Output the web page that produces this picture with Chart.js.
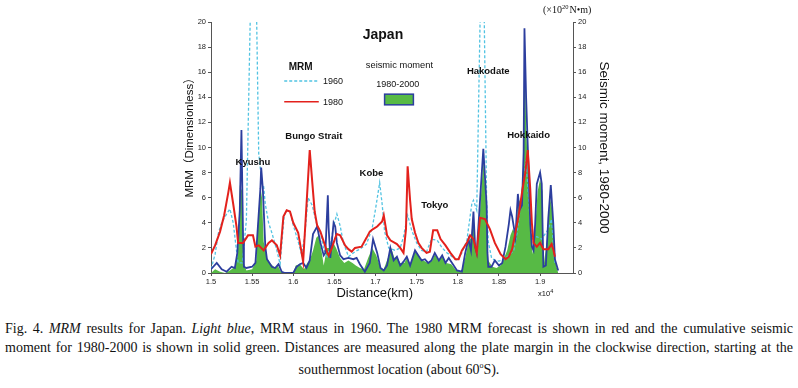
<!DOCTYPE html>
<html>
<head>
<meta charset="utf-8">
<script src="https://cdn.jsdelivr.net/npm/chart.js@4.4.1/dist/chart.umd.min.js"></script>
<style>
  body { margin: 0; background: #fff; }
  #wrap { position: relative; width: 798px; height: 310px; }
  #caption { width: 788px; margin: 10px 0 0 5px; font-family: "Liberation Serif", "Times New Roman", serif; font-size: 14px; line-height: 18.5px; color: #111; }
  #caption .j { text-align: justify; text-align-last: justify; white-space: nowrap; }
  #caption .c { text-align: center; }
</style>
</head>
<body>
<div id="wrap"><canvas id="chart"></canvas></div>
<div id="caption">
  <div class="j">Fig. 4. <i>MRM</i> results for Japan. <i>Light blue</i>, MRM staus in 1960. The 1980 MRM forecast is shown in red and the cumulative seismic</div>
  <div class="j">moment for 1980-2000 is shown in solid green. Distances are measured along the plate margin in the clockwise direction, starting at the</div>
  <div class="c">southernmost location (about 60<sup style="font-size:8px">o</sup>S).</div>
</div>
<script>
// distance along margin (x10^4 km)
const xTicks = [1.5, 1.55, 1.6, 1.65, 1.7, 1.75, 1.8, 1.85, 1.9];
const yTicks = [0, 2, 4, 6, 8, 10, 12, 14, 16, 18, 20];

// MRM 1980 forecast (red)
const red1980X = [1.500, 1.505, 1.511, 1.516, 1.521, 1.523, 1.527, 1.531, 1.533, 1.539, 1.545, 1.551, 1.554, 1.558, 1.564, 1.570, 1.574, 1.580, 1.584, 1.588, 1.592, 1.596, 1.600, 1.606, 1.612, 1.620, 1.623, 1.626, 1.629, 1.633, 1.637, 1.641, 1.643, 1.647, 1.651, 1.653, 1.657, 1.663, 1.667, 1.671, 1.675, 1.683, 1.689, 1.693, 1.697, 1.702, 1.708, 1.710, 1.714, 1.718, 1.726, 1.730, 1.734, 1.737, 1.739, 1.742, 1.744, 1.748, 1.752, 1.756, 1.762, 1.766, 1.770, 1.775, 1.779, 1.785, 1.791, 1.797, 1.801, 1.805, 1.811, 1.815, 1.819, 1.823, 1.827, 1.833, 1.839, 1.845, 1.852, 1.858, 1.862, 1.866, 1.870, 1.874, 1.878, 1.882, 1.885, 1.888, 1.890, 1.892, 1.896, 1.900, 1.904, 1.910, 1.914, 1.916, 1.918];
const red1980Y = [1.5, 2.2, 3.3, 4.6, 6.4, 7.2, 5.5, 3.7, 2.4, 2.4, 3.0, 3.0, 2.1, 2.2, 1.8, 2.4, 2.6, 2.2, 1.4, 4.5, 5.0, 4.9, 4.0, 3.2, 0.9, 9.8, 7.3, 4.9, 3.8, 3.3, 2.5, 1.7, 1.4, 2.0, 2.8, 3.1, 3.0, 2.2, 1.9, 1.7, 2.0, 2.1, 2.8, 3.3, 3.5, 3.7, 4.1, 4.6, 3.0, 2.6, 2.3, 2.0, 1.6, 3.5, 8.5, 5.8, 4.3, 3.2, 2.4, 2.0, 1.6, 1.7, 3.4, 3.4, 2.7, 2.2, 1.6, 1.1, 1.1, 1.8, 2.4, 3.0, 2.7, 1.6, 4.4, 4.3, 3.5, 2.4, 1.5, 1.1, 1.3, 1.9, 3.2, 4.6, 6.4, 8.0, 9.8, 6.7, 4.0, 2.4, 2.1, 2.4, 1.9, 1.9, 2.3, 1.9, 1.3];

// MRM status in 1960 (light blue, dashed)
const cyan1960X = [1.500, 1.505, 1.509, 1.513, 1.519, 1.523, 1.527, 1.531, 1.533, 1.538, 1.543, 1.552, 1.558, 1.562, 1.564, 1.566, 1.570, 1.574, 1.580, 1.584, 1.589, 1.592, 1.596, 1.600, 1.606, 1.610, 1.614, 1.618, 1.623, 1.629, 1.633, 1.637, 1.641, 1.645, 1.649, 1.653, 1.657, 1.661, 1.665, 1.667, 1.675, 1.681, 1.689, 1.696, 1.700, 1.705, 1.708, 1.711, 1.716, 1.724, 1.730, 1.734, 1.739, 1.744, 1.750, 1.756, 1.762, 1.768, 1.775, 1.781, 1.787, 1.793, 1.799, 1.805, 1.811, 1.817, 1.819, 1.823, 1.830, 1.835, 1.837, 1.841, 1.845, 1.850, 1.856, 1.862, 1.868, 1.872, 1.876, 1.880, 1.883, 1.887, 1.890, 1.896, 1.902, 1.910, 1.914, 1.916, 1.918];
const cyan1960Y = [0.3, 1.5, 3.2, 4.0, 4.7, 5.1, 4.0, 1.8, 0.8, 0.8, 4.2, 35, 9.5, 7.1, 6.9, 5.5, 4.0, 3.2, 1.8, 0.7, 4.6, 5.0, 4.9, 3.8, 2.5, 1.5, 3.0, 6.0, 5.4, 3.75, 3.2, 1.9, 1.3, 2.1, 3.75, 4.7, 3.75, 2.4, 1.7, 1.3, 1.7, 1.9, 2.3, 3.6, 5.1, 7.2, 5.5, 3.3, 2.0, 1.8, 2.0, 2.9, 4.6, 3.4, 2.4, 1.8, 1.7, 2.7, 2.6, 2.0, 1.6, 1.3, 1.0, 1.6, 2.6, 5.5, 5.8, 5.0, 31, 5.8, 2.5, 1.2, 1.0, 0.95, 1.1, 1.4, 1.8, 3.2, 5.3, 7.4, 9.0, 5.0, 2.7, 2.9, 2.7, 3.5, 4.3, 2.5, 0.8];

// seismic moment 1980-2000, outline (dark blue), x10^20 N·m
const momentX = [1.500, 1.507, 1.513, 1.519, 1.525, 1.529, 1.532, 1.535, 1.537, 1.539, 1.540, 1.543, 1.550, 1.554, 1.556, 1.560, 1.561, 1.563, 1.566, 1.568, 1.574, 1.578, 1.582, 1.586, 1.590, 1.600, 1.604, 1.608, 1.612, 1.616, 1.620, 1.624, 1.629, 1.633, 1.637, 1.639, 1.642, 1.643, 1.645, 1.649, 1.651, 1.653, 1.657, 1.661, 1.667, 1.673, 1.677, 1.681, 1.687, 1.693, 1.697, 1.702, 1.706, 1.710, 1.714, 1.718, 1.722, 1.726, 1.730, 1.734, 1.738, 1.742, 1.748, 1.752, 1.756, 1.760, 1.764, 1.768, 1.772, 1.777, 1.781, 1.785, 1.789, 1.793, 1.799, 1.805, 1.809, 1.813, 1.816, 1.819, 1.821, 1.823, 1.827, 1.831, 1.835, 1.836, 1.837, 1.841, 1.845, 1.850, 1.854, 1.858, 1.862, 1.864, 1.866, 1.870, 1.873, 1.875, 1.878, 1.880, 1.881, 1.883, 1.886, 1.888, 1.890, 1.892, 1.894, 1.896, 1.900, 1.902, 1.904, 1.907, 1.910, 1.913, 1.916, 1.918, 1.922];
const momentY = [0.3, 0.8, 0.3, 0.1, 0.5, 0.4, 1.6, 5.0, 11.4, 2.7, 0.5, 0.4, 0.5, 0.8, 2.7, 6.7, 8.4, 6.7, 2.1, 1.1, 0.5, 0.4, 0.7, 0.1, 0, 0, 0.5, 0.7, 0.8, 0.4, 1.0, 3.1, 3.7, 2.4, 1.4, 1.6, 6.2, 3.6, 1.2, 4.0, 3.7, 2.4, 1.4, 1.1, 1.2, 1.1, 1.2, 0.7, 0.1, 0.8, 2.7, 1.6, 0.4, 0.2, 0.6, 2.0, 1.0, 1.3, 0.6, 0.9, 1.3, 0.6, 1.8, 1.4, 1.0, 1.1, 0.8, 1.0, 1.6, 1.0, 1.4, 0.8, 1.2, 0.8, 0.2, 0.1, 1.6, 2.7, 1.8, 4.9, 2.1, 1.6, 5.8, 9.9, 5.4, 1.6, 0.5, 0.5, 1.0, 0.6, 0.8, 2.1, 3.9, 5.0, 4.5, 2.9, 6.3, 5.0, 5.4, 9.6, 19.5, 14, 8.2, 4.0, 2.1, 1.8, 3.9, 7.1, 8.0, 7.1, 0.5, 0.6, 4.4, 7.0, 4.0, 1.1, 0.2];

// seismic moment 1980-2000, solid green area
const greenX = [1.500, 1.505, 1.511, 1.517, 1.523, 1.529, 1.533, 1.535, 1.538, 1.539, 1.543, 1.550, 1.555, 1.557, 1.560, 1.562, 1.564, 1.568, 1.573, 1.578, 1.581, 1.585, 1.590, 1.600, 1.603, 1.608, 1.613, 1.617, 1.620, 1.624, 1.628, 1.631, 1.635, 1.637, 1.641, 1.645, 1.648, 1.652, 1.657, 1.662, 1.667, 1.672, 1.676, 1.681, 1.686, 1.691, 1.696, 1.701, 1.706, 1.710, 1.715, 1.719, 1.723, 1.726, 1.730, 1.735, 1.738, 1.742, 1.748, 1.753, 1.758, 1.764, 1.769, 1.772, 1.777, 1.781, 1.786, 1.792, 1.798, 1.804, 1.809, 1.813, 1.816, 1.819, 1.821, 1.824, 1.827, 1.831, 1.835, 1.837, 1.842, 1.847, 1.852, 1.855, 1.860, 1.864, 1.867, 1.871, 1.873, 1.877, 1.880, 1.881, 1.883, 1.886, 1.888, 1.891, 1.894, 1.897, 1.900, 1.903, 1.904, 1.909, 1.912, 1.915, 1.917, 1.920, 1.922];
const greenY = [0, 0.3, 0.1, 0, 0.2, 0.5, 2.0, 7.0, 6.5, 1.0, 0.2, 0.3, 1.0, 4.0, 6.9, 6.0, 2.5, 1.2, 0.7, 0.4, 0.6, 0.1, 0, 0, 0.6, 0.7, 0.3, 0.8, 1.0, 1.8, 2.8, 3.0, 1.5, 0.6, 2.0, 2.0, 2.5, 2.0, 1.2, 0.8, 1.0, 0.8, 0.6, 0.4, 0.3, 1.2, 2.0, 1.4, 0.4, 0.3, 1.2, 2.0, 1.2, 1.3, 0.8, 0.8, 1.2, 0.6, 1.7, 1.3, 1.0, 0.8, 1.0, 1.5, 1.0, 1.3, 0.8, 0.7, 0.2, 0.1, 1.2, 2.5, 2.8, 4.6, 2.0, 1.5, 5.0, 9.0, 5.0, 1.0, 0.5, 0.4, 0.6, 1.0, 1.8, 3.0, 3.5, 3.0, 5.5, 6.0, 9.0, 19.0, 12, 6.5, 3.5, 1.5, 3.5, 6.5, 7.5, 6.5, 0.4, 3.0, 6.0, 5.0, 2.0, 0.5, 0];

const places = ['Kyushu', 'Bungo Strait', 'Kobe', 'Tokyo', 'Hakodate', 'Hokkaido'];

// where the text sits, in axis units
const placeAt = [[1.551, 8.8], [1.625, 10.9], [1.695, 7.95], [1.772, 5.4], [1.837, 16.05], [1.886, 11.0]];

const pts = (xs, ys) => xs.map((v, i) => ({ x: v, y: ys[i] }));

const RED = '#e3211c';
const CYAN = '#52c3e2';
const BLUE = '#2c3e9e';
const GREEN = '#57ba45';

const figureText = {
  id: 'figureText',
  afterDraw(chart) {
    const { ctx, scales: { x, y }, chartArea: area } = chart;
    const px = v => x.getPixelForValue(v);
    const py = v => y.getPixelForValue(v);
    ctx.save();
    ctx.fillStyle = '#111';
    ctx.textBaseline = 'middle';

    ctx.textAlign = 'center';
    ctx.font = 'bold 14px "Liberation Sans", Arial, sans-serif';
    ctx.fillText('Japan', px(1.709), py(18.95));

    // legend
    ctx.font = 'bold 10px "Liberation Sans", Arial, sans-serif';
    ctx.fillText('MRM', px(1.609), py(16.4));
    ctx.lineWidth = 1.3;
    ctx.strokeStyle = CYAN;
    ctx.setLineDash([3, 2]);
    ctx.beginPath(); ctx.moveTo(px(1.589), py(15.3)); ctx.lineTo(px(1.631), py(15.3)); ctx.stroke();
    ctx.setLineDash([]);
    ctx.lineWidth = 1.5;
    ctx.strokeStyle = RED;
    ctx.beginPath(); ctx.moveTo(px(1.589), py(13.65)); ctx.lineTo(px(1.631), py(13.65)); ctx.stroke();
    ctx.textAlign = 'left';
    ctx.font = '9px "Liberation Sans", Arial, sans-serif';
    ctx.fillText('1960', px(1.636), py(15.25));
    ctx.fillText('1980', px(1.636), py(13.6));

    ctx.textAlign = 'center';
    ctx.font = '9.3px "Liberation Sans", Arial, sans-serif';
    ctx.fillText('seismic moment', px(1.729), py(16.55));
    ctx.font = '9px "Liberation Sans", Arial, sans-serif';
    ctx.fillText('1980-2000', px(1.727), py(15.0));
    ctx.fillStyle = GREEN;
    const rx = px(1.711), ry = py(14.25);
    const rw = px(1.746) - rx, rh = py(13.4) - ry;
    ctx.fillRect(rx, ry, rw, rh);
    ctx.lineWidth = 1.5;
    ctx.strokeStyle = BLUE;
    ctx.strokeRect(rx, ry, rw, rh);

    // place names
    ctx.fillStyle = '#111';
    ctx.font = 'bold 9.5px "Liberation Sans", Arial, sans-serif';
    places.forEach((name, i) => {
      ctx.fillText(name, px(placeAt[i][0]), py(placeAt[i][1]));
    });

    // axis titles
    ctx.font = '13px "Liberation Sans", Arial, sans-serif';
    ctx.fillText('Distance(km)', px(1.699), area.bottom + 20);
    ctx.save();
    ctx.translate(area.left - 21, py(11.0));
    ctx.rotate(-Math.PI / 2);
    ctx.font = '11.5px "Liberation Sans", Arial, "Noto Sans CJK SC", sans-serif';
    ctx.fillText('MRM（Dimensionless）', 0, 0);
    ctx.restore();
    ctx.save();
    ctx.translate(area.right + 31, py(10.0));
    ctx.rotate(Math.PI / 2);
    ctx.font = '13.5px "Liberation Sans", Arial, sans-serif';
    ctx.fillText('Seismic moment, 1980-2000', 0, 0);
    ctx.restore();

    // units
    ctx.textAlign = 'left';
    ctx.font = '10px "Liberation Serif", serif';
    let ux = area.right - 30, uy = area.top - 12;
    ctx.fillText('(×10', ux, uy);
    ux += ctx.measureText('(×10').width;
    ctx.font = '6.5px "Liberation Serif", serif';
    ctx.fillText('20', ux, uy - 3);
    ux += ctx.measureText('20').width + 1;
    ctx.font = '10px "Liberation Serif", serif';
    ctx.fillText('N•m)', ux, uy);

    ctx.font = '7.5px "Liberation Sans", Arial, sans-serif';
    let ex = px(1.9) - 2, ey = area.bottom + 21;
    ctx.fillText('x10', ex, ey);
    ex += ctx.measureText('x10').width;
    ctx.font = '5.5px "Liberation Sans", Arial, sans-serif';
    ctx.fillText('4', ex, ey - 3);
    ctx.restore();
  }
};

const tickFont = { family: '"Liberation Sans", Arial, sans-serif', size: 7.5 };
const axisLine = { display: true, color: '#555', width: 1 };
const tickMarks = { drawOnChartArea: false, drawTicks: true, tickLength: 3, color: '#555' };

new Chart(document.getElementById('chart'), {
  type: 'line',
  data: {
    datasets: [
      { label: '1980', data: pts(red1980X, red1980Y), yAxisID: 'y', borderColor: RED, borderWidth: 2, pointRadius: 0, tension: 0, fill: false },
      { label: 'seismic moment', data: pts(momentX, momentY), yAxisID: 'y2', borderColor: BLUE, borderWidth: 1.8, pointRadius: 0, tension: 0, fill: false },
      { label: '1960', data: pts(cyan1960X, cyan1960Y), yAxisID: 'y', borderColor: CYAN, borderWidth: 1.3, borderDash: [3, 2], pointRadius: 0, tension: 0, fill: false },
      { label: '1980-2000', data: pts(greenX, greenY), yAxisID: 'y2', borderWidth: 0, backgroundColor: GREEN, pointRadius: 0, tension: 0, fill: 'origin' }
    ]
  },
  options: {
    responsive: true,
    maintainAspectRatio: false,
    animation: false,
    layout: { padding: { top: 22, left: 0, right: 0, bottom: 0 } },
    plugins: { legend: { display: false }, tooltip: { enabled: false } },
    scales: {
      x: {
        type: 'linear', min: 1.5, max: 1.94,
        afterBuildTicks: s => { s.ticks = xTicks.map(v => ({ value: v })); },
        afterFit: s => { s.height = 37; },
        ticks: { font: tickFont, color: '#222', padding: 1, maxRotation: 0, callback: v => String(v) },
        grid: tickMarks, border: axisLine
      },
      y: {
        position: 'left', min: 0, max: 20,
        afterBuildTicks: s => { s.ticks = yTicks.map(v => ({ value: v })); },
        afterFit: s => { s.width = 211; },
        ticks: { font: tickFont, color: '#222', padding: 2 },
        grid: tickMarks, border: axisLine
      },
      y2: {
        position: 'right', min: 0, max: 20,
        afterBuildTicks: s => { s.ticks = yTicks.map(v => ({ value: v })); },
        afterFit: s => { s.width = 225; },
        ticks: { font: tickFont, color: '#222', padding: 2 },
        grid: tickMarks, border: axisLine
      }
    }
  },
  plugins: [figureText]
});
</script>
</body>
</html>
